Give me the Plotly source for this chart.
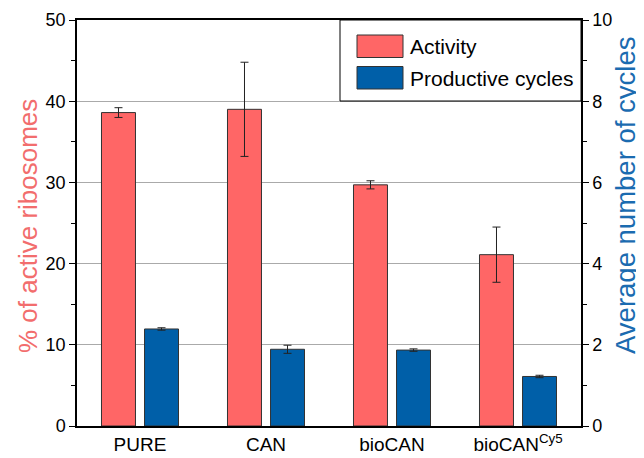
import plotly.graph_objects as go

categories = ["PURE", "CAN", "bioCAN", "bioCAN<sup>Cy5</sup>"]
activity = [38.6, 39.0, 29.7, 21.1]
activity_err = [0.6, 5.8, 0.5, 3.4]
cycles = [2.39, 1.89, 1.87, 1.22]
cycles_err = [0.03, 0.1, 0.03, 0.03]
legend_labels = ["Activity", "Productive cycles"]
axis_titles = ["% of active ribosomes", "Average number of cycles"]

RED = "#FF6666"
BLUE = "#005FA8"
OFF = 8  # page body margin
W, H = 644 - OFF, 458 - OFF
L, R, T, B = 77 - OFF, 63, 20 - OFF, 32
pw, ph = W - L - R, H - T - B

def px(x):  # page pixel -> paper
    return (x - OFF - L) / pw

def py(y):
    return (H - B - (y - OFF)) / ph

fig = go.Figure()
fig.add_trace(go.Bar(
    x=categories, y=activity, name=legend_labels[0], marker=dict(color=RED, line=dict(color="#333333", width=1)),
    error_y=dict(type="data", array=activity_err, color="#222222", thickness=1, width=4),
    offsetgroup="a", yaxis="y", showlegend=False))
fig.add_trace(go.Bar(
    x=categories, y=cycles, name=legend_labels[1], marker=dict(color=BLUE, line=dict(color="#333333", width=1)),
    error_y=dict(type="data", array=cycles_err, color="#222222", thickness=1, width=4),
    offsetgroup="b", yaxis="y2", showlegend=False))

font = "Liberation Sans, Arial, sans-serif"
fig.update_layout(
    width=W, height=H, margin=dict(l=L, r=R, t=T, b=B, autoexpand=False),
    paper_bgcolor="white", plot_bgcolor="white",
    barmode="group", bargap=0.317, bargroupgap=0.21,
    font=dict(family=font, size=18, color="black"),
    xaxis=dict(showline=True, linecolor="black", linewidth=1.5, mirror=True, ticks="",
               tickfont=dict(size=19), showgrid=False, automargin=False),
    yaxis=dict(range=[0, 50], dtick=10, showline=True, linecolor="black", linewidth=1.5,
               ticks="outside", ticklen=6, tickcolor="black", automargin=False,
               minor=dict(ticks="outside", dtick=5, ticklen=4, tickcolor="black", showgrid=False),
               showgrid=True, gridcolor="#aaaaaa", gridwidth=1, zeroline=False),
    yaxis2=dict(range=[0, 10], dtick=2, overlaying="y", side="right", showline=True,
                linecolor="black", linewidth=1.5, ticks="outside", ticklen=6, tickcolor="black",
                minor=dict(ticks="outside", dtick=1, ticklen=4, tickcolor="black", showgrid=False),
                showgrid=False, zeroline=False, automargin=False),
)

# axis titles
fig.add_annotation(xref="paper", yref="paper", x=px(28), y=py(226), text=axis_titles[0], showarrow=False,
                   textangle=-90, xanchor="center", yanchor="middle",
                   font=dict(size=26, color="#F26D6D", family=font))
fig.add_annotation(xref="paper", yref="paper", x=px(625), y=py(196), text=axis_titles[1], showarrow=False,
                   textangle=-90, xanchor="center", yanchor="middle",
                   font=dict(size=27.5, color="#1B6BB0", family=font))

# legend box drawn manually
fig.add_shape(type="rect", xref="paper", yref="paper", x0=px(340), x1=px(581), y0=py(101), y1=py(20),
              line=dict(color="black", width=1), fillcolor="white", layer="above")
for i, (lab, col) in enumerate(zip(legend_labels, [RED, BLUE])):
    y0 = 35 + i * 31.5
    fig.add_shape(type="rect", xref="paper", yref="paper", x0=px(357), x1=px(403),
                  y0=py(y0 + 22.5), y1=py(y0), line=dict(color="#333333", width=1), fillcolor=col, layer="above")
    fig.add_annotation(xref="paper", yref="paper", x=px(408), y=py(y0 + 11.5), text=lab, showarrow=False,
                       xanchor="left", yanchor="middle", font=dict(size=21, color="black", family=font))

fig.write_html("out.html")
